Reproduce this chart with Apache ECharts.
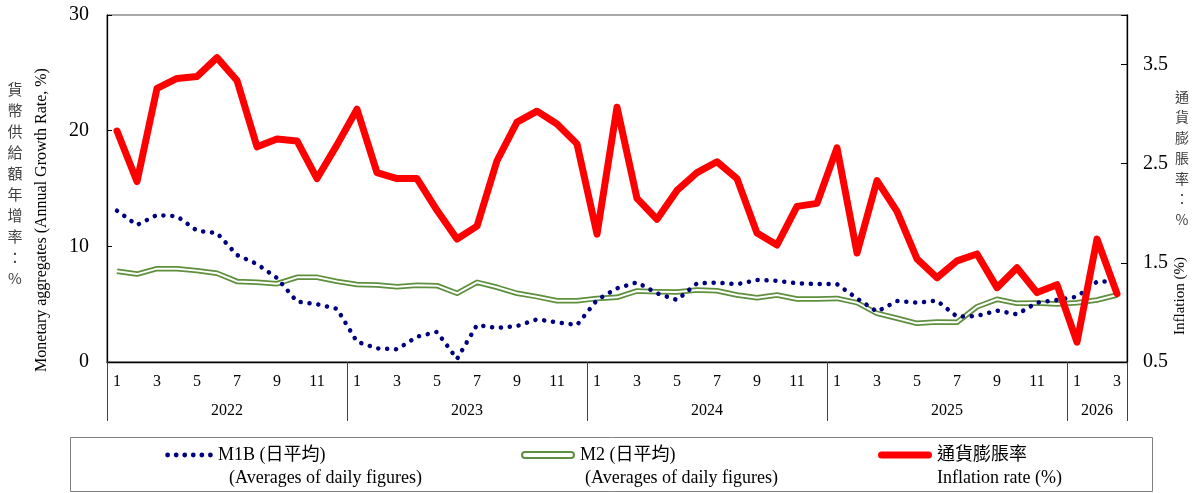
<!DOCTYPE html>
<html>
<head>
<meta charset="utf-8" />
<title>貨幣供給額與通貨膨脹率</title>
<script src="https://cdn.jsdelivr.net/npm/echarts@6.0.0/dist/echarts.min.js"></script>
<style>
  html, body { margin: 0; padding: 0; background: #fff; }
  #chart { width: 1195px; height: 493px; }
</style>
</head>
<body>
<div id="chart"></div>
<script>
// 月份 2022/1 ~ 2026/3
var months = ['1','2','3','4','5','6','7','8','9','10','11','12',
              '1','2','3','4','5','6','7','8','9','10','11','12',
              '1','2','3','4','5','6','7','8','9','10','11','12',
              '1','2','3','4','5','6','7','8','9','10','11','12',
              '1','2','3'];
var years = ['2022', '2023', '2024', '2025', '2026'];

// M1B 年增率 (%)
var m1b = [13.08, 11.84, 12.71, 12.6, 11.35, 11.15, 9.25, 8.47, 7.26, 5.22, 5.0, 4.6,
           1.75, 1.18, 1.10, 2.19, 2.6, 0.26, 3.2, 2.94, 3.11, 3.69, 3.43, 3.2,
           5.36, 6.37, 6.89, 5.94, 5.36, 6.8, 6.86, 6.72, 7.09, 7.03, 6.8, 6.74,
           6.74, 5.5, 4.35, 5.27, 5.13, 5.3, 3.92, 3.98, 4.44, 4.12, 5.13, 5.36,
           5.65, 6.94, 7.0];
// M2 年增率 (%)
var m2 = [7.84, 7.6, 8.07, 8.07, 7.9, 7.67, 6.97, 6.89, 6.77, 7.32, 7.32, 6.97,
          6.7, 6.66, 6.51, 6.63, 6.6, 5.94, 6.89, 6.46, 5.94, 5.65, 5.3, 5.3,
          5.5, 5.59, 6.14, 6.08, 6.05, 6.22, 6.16, 5.79, 5.56, 5.79, 5.45, 5.45,
          5.5, 5.13, 4.21, 3.78, 3.34, 3.46, 3.43, 4.78, 5.42, 5.07, 5.1, 5.01,
          5.13, 5.36, 5.79];
// 通貨膨脹率 (%)
var inflation = [2.83, 2.32, 3.26, 3.36, 3.38, 3.57, 3.34, 2.67, 2.75, 2.73, 2.35, 2.69,
                 3.05, 2.41, 2.35, 2.35, 2.03, 1.74, 1.87, 2.53, 2.92, 3.03, 2.90, 2.70,
                 1.79, 3.07, 2.15, 1.94, 2.23, 2.41, 2.52, 2.35, 1.80, 1.68, 2.07, 2.10,
                 2.66, 1.60, 2.33, 2.02, 1.54, 1.35, 1.52, 1.59, 1.25, 1.45, 1.20, 1.28,
                 0.70, 1.74, 1.19];

var SERIF = "'Liberation Serif', 'Times New Roman', 'Noto Sans CJK TC', serif";
var BLUE = '#00007f', GREEN = '#5e8f3d', RED = '#ff0000';

function svgIcon(body, w, h) {
  return 'image://data:image/svg+xml;charset=utf-8,' + encodeURIComponent(
    '<svg xmlns="http://www.w3.org/2000/svg" width="' + w + '" height="' + h + '">' + body + '</svg>');
}
var dots = '';
for (var k = 0; k < 6; k++) {
  dots += '<circle cx="' + (2.6 + k * 8.56) + '" cy="5" r="2.4" fill="' + BLUE + '"/>';
}
var iconM1B = svgIcon(dots, 48, 10);
var iconM2 = svgIcon('<rect x="1" y="2" width="52" height="6" rx="3" fill="#fff" stroke="' + GREEN + '" stroke-width="2"/>', 54, 10);
var iconCPI = svgIcon('<rect x="0" y="1.5" width="54" height="7" rx="3.5" fill="' + RED + '"/>', 54, 10);

// 年份標籤放在各年區段中間
function yearLabel(value, index) {
  for (var y = 0; y < years.length; y++) {
    var start = y * 12;
    var count = Math.min(12, months.length - start);
    if (count % 2 === 0 && index === start + count / 2) return '{t|' + years[y] + '}{g| }';
    if (count % 2 === 1 && index === start + (count - 1) / 2) return '{t|' + years[y] + '}';
  }
  return '';
}

var chart = echarts.init(document.getElementById('chart'));

var option = {
  animation: false,
  grid: { left: 107, right: 68, top: 15, bottom: 131, show: true, borderColor: '#555', borderWidth: 1 },
  legend: [
    { left: 165, top: 446, padding: 0, itemWidth: 48, itemHeight: 10, selectedMode: false,
      textStyle: { fontFamily: SERIF, fontSize: 18, color: '#000' },
      data: [{ name: 'M1B (日平均)', icon: iconM1B }] },
    { left: 521, top: 446, padding: 0, itemWidth: 54, itemHeight: 10, selectedMode: false,
      textStyle: { fontFamily: SERIF, fontSize: 18, color: '#000' },
      data: [{ name: 'M2 (日平均)', icon: iconM2 }] },
    { left: 878, top: 446, padding: 0, itemWidth: 54, itemHeight: 10, selectedMode: false,
      textStyle: { fontFamily: SERIF, fontSize: 18, color: '#000' },
      data: [{ name: '通貨膨脹率', icon: iconCPI }] }
  ],
  xAxis: [
    {
      type: 'category', data: months, boundaryGap: true, position: 'bottom',
      axisLine: { lineStyle: { color: '#000', width: 1.3 } },
      axisTick: { show: false },
      axisLabel: { interval: 1, margin: 12, fontFamily: SERIF, fontSize: 16, color: '#000' }
    },
    {
      // 年度分隔線
      type: 'value', min: 0, max: months.length, interval: 12, position: 'bottom',
      axisLine: { show: false },
      axisLabel: { show: false },
      splitLine: { show: false },
      axisTick: { show: true, length: 59, lineStyle: { color: '#404040', width: 1 } }
    },
    {
      type: 'category', data: months, boundaryGap: true, position: 'bottom',
      axisLine: { show: false },
      axisTick: { show: false },
      axisLabel: {
        interval: 0, margin: 41, formatter: yearLabel,
        rich: {
          t: { fontFamily: SERIF, fontSize: 16, color: '#000' },
          g: { width: 20, fontSize: 16 }
        }
      }
    }
  ],
  yAxis: [
    {
      type: 'value', position: 'left', min: 0, max: 30, interval: 10,
      axisLine: { show: true, lineStyle: { color: '#000', width: 1.3 } },
      axisTick: { show: true, inside: true, length: 5, lineStyle: { color: '#000' } },
      splitLine: { show: false },
      axisLabel: { margin: 18, fontFamily: SERIF, fontSize: 20, color: '#000' }
    },
    {
      type: 'value', position: 'right', min: 0.5, max: 4, interval: 1,
      axisLine: { show: true, lineStyle: { color: '#000', width: 1.3 } },
      axisTick: { show: true, inside: true, length: 6, lineStyle: { color: '#000' } },
      splitLine: { show: false },
      axisLabel: {
        margin: 16, fontFamily: SERIF, fontSize: 20, color: '#000',
        formatter: function (v) { return Math.abs(v - 4) < 1e-9 ? '' : v.toFixed(1); }
      }
    }
  ],
  series: [
    {
      name: 'M2 (日平均)', type: 'line', data: m2, yAxisIndex: 0,
      symbol: 'none', silent: true,
      lineStyle: { color: GREEN, width: 5.5, join: 'round' }
    },
    {
      name: 'M2 (日平均)', type: 'line', data: m2, yAxisIndex: 0,
      symbol: 'none', silent: true,
      lineStyle: { color: '#fff', width: 2, join: 'round' }
    },
    {
      name: 'M1B (日平均)', type: 'line', data: m1b, yAxisIndex: 0,
      symbol: 'none', silent: true,
      lineStyle: { color: BLUE, width: 4.5, type: [0.1, 8.8], cap: 'round', join: 'round' }
    },
    {
      name: '通貨膨脹率', type: 'line', data: inflation, yAxisIndex: 1,
      symbol: 'none', silent: true,
      lineStyle: { color: RED, width: 7, join: 'round', cap: 'round' }
    }
  ],
  graphic: [
    { type: 'rect', z: -1, shape: { x: 70.5, y: 437.5, width: 1082, height: 54 },
      style: { fill: 'none', stroke: '#808080', lineWidth: 1 } },
    { type: 'text', x: 229, y: 478,
      style: { text: '(Averages of daily figures)', font: '18px ' + SERIF, fill: '#000', verticalAlign: 'middle' } },
    { type: 'text', x: 585, y: 478,
      style: { text: '(Averages of daily figures)', font: '18px ' + SERIF, fill: '#000', verticalAlign: 'middle' } },
    { type: 'text', x: 937, y: 478,
      style: { text: 'Inflation rate (%)', font: '18px ' + SERIF, fill: '#000', verticalAlign: 'middle' } },
    { type: 'text', x: 15, y: 184,
      style: { text: '貨\n幣\n供\n給\n額\n年\n增\n率\n：\n%', font: "15px 'Noto Sans CJK TC'", lineHeight: 21,
               fill: '#404040', align: 'center', verticalAlign: 'middle' } },
    { type: 'text', x: 42, y: 220, rotation: Math.PI / 2,
      style: { text: 'Monetary aggregates (Annual Growth Rate, %)', font: '16px ' + SERIF, fill: '#000',
               align: 'center', verticalAlign: 'middle' } },
    { type: 'text', x: 1182, y: 158,
      style: { text: '通\n貨\n膨\n脹\n率\n：\n%', font: "14px 'Noto Sans CJK TC'", lineHeight: 20.5,
               fill: '#404040', align: 'center', verticalAlign: 'middle' } },
    { type: 'text', x: 1180, y: 296, rotation: Math.PI / 2,
      style: { text: 'Inflation (%)', font: '15px ' + SERIF, fill: '#000',
               align: 'center', verticalAlign: 'middle' } }
  ]
};
chart.setOption(option);
</script>
</body>
</html>
